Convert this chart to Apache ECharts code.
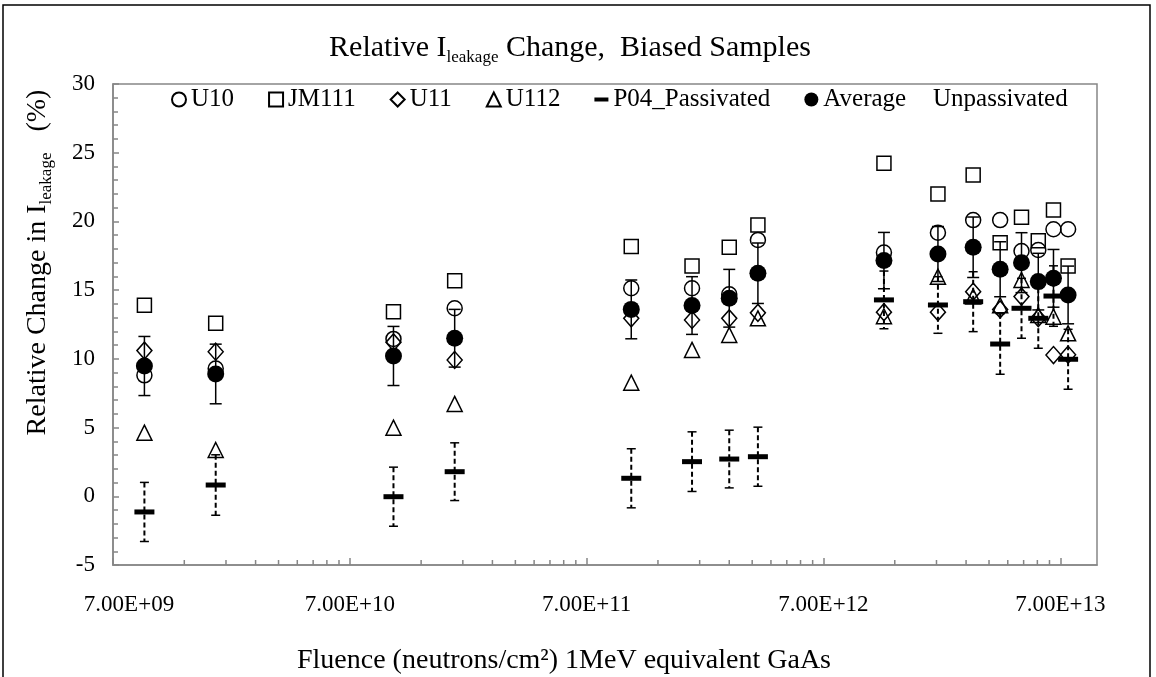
<!DOCTYPE html>
<html><head><meta charset="utf-8">
<script src="https://cdn.jsdelivr.net/npm/echarts@6/dist/echarts.min.js"></script>
<style>html,body{margin:0;padding:0;background:#fff}#c{width:1156px;height:677px}</style>
</head><body><div id="c"></div>
<script>
// ---- data ----
const fluence = [9.5e9, 1.9e10, 1.07e11, 1.94e11, 1.08e12, 1.95e12, 2.8e12, 3.7e12,
                 1.26e13, 2.13e13, 3.0e13, 3.9e13, 4.8e13, 5.65e13, 6.55e13, 7.55e13];
const u10   = [8.8, 9.3, 11.45, 13.68, 15.14, 15.14, 14.7, 18.65, 17.73, 19.18, 20.1, 20.1, 17.85, 17.92, 19.43, 19.43];
const jm111 = [13.9, 12.59, 13.43, 15.69, 18.17, 16.76, 18.12, 19.74, 24.23, 22.0, 23.38, 18.45, 20.3, 18.6, 20.83, 16.76];
const u11   = [10.6, 10.52, 11.2, 9.92, 12.95, 12.83, 12.95, 13.35, 13.4, 13.4, 14.89, 13.6, 14.53, 12.97, 10.28, 10.3];
const u112  = [4.63, 3.37, 4.99, 6.72, 8.27, 10.65, 11.74, 12.95, 13.1, 15.98, 14.53, 13.9, 15.74, 13.19, 13.07, 11.86];
const p04   = [-1.14, 0.82, -0.03, 1.79, 1.31, 2.52, 2.71, 2.88, 14.29, 13.92, 14.16, 11.08, 13.68, 12.95, 14.57, 9.97];
const p04Err = [2.15, 2.2, 2.15, 2.1, 2.15, 2.17, 2.1, 2.15, 2.1, 2.06, 2.18, 2.2, 2.18, 2.18, 2.2, 2.18];
const avg   = [9.48, 8.9, 10.21, 11.5, 13.6, 13.88, 14.41, 16.23, 17.15, 17.63, 18.12, 16.52, 17.0, 15.62, 15.86, 14.65];
const avgErr = [2.15, 2.17, 2.15, 2.1, 2.14, 2.1, 2.1, 2.2, 2.05, 2.0, 2.2, 2.0, 2.18, 2.06, 2.1, 2.1];
const xTickLabels = ['7.00E+09', '7.00E+10', '7.00E+11', '7.00E+12', '7.00E+13'];
const xMinFluence = 7e9, xMaxFluence = 1e14;
const yMin = -5, yMax = 30, yStep = 5;
const minorMultipliers = [2, 3, 4, 5, 6, 7, 8, 9];

// ---- helpers ----
const lx = f => Math.log10(f / xMinFluence);
const XMAX = lx(xMaxFluence);
const pts = ys => fluence.map((f, i) => [lx(f), ys[i]]);
const errPts = (ys, es) => fluence.map((f, i) => [lx(f), ys[i], es[i]]);
const minorTicks = [];
for (let n = 0; n < xTickLabels.length; n++) {
  minorMultipliers.forEach(k => { const v = n + Math.log10(k); if (v < XMAX) minorTicks.push([v, yMin]); });
}
const FONT = "'Liberation Serif','Times New Roman',serif";
const AX = '#868686';

function errRender(capW, dash, lw) {
  return function (params, api) {
    const x = api.value(0), y = api.value(1), e = api.value(2);
    const t = api.coord([x, y + e]), b = api.coord([x, y - e]);
    return { type: 'group', children: [
      { type: 'line', shape: { x1: t[0], y1: t[1], x2: b[0], y2: b[1] }, style: { stroke: '#000', lineWidth: lw, lineDash: dash } },
      { type: 'line', shape: { x1: t[0] - capW / 2, y1: t[1], x2: t[0] + capW / 2, y2: t[1] }, style: { stroke: '#000', lineWidth: 1.5 } },
      { type: 'line', shape: { x1: b[0] - capW / 2, y1: b[1], x2: b[0] + capW / 2, y2: b[1] }, style: { stroke: '#000', lineWidth: 1.5 } }
    ]};
  };
}
const hollow = { color: 'transparent', borderColor: '#000', borderWidth: 1.5, opacity: 1 };
const solid = { color: '#000', opacity: 1 };
const legendText = { fontFamily: FONT, fontSize: 25, color: '#000', padding: [2, 0, 0, 0] };

const chart = echarts.init(document.getElementById('c'), null, { renderer: 'canvas' });
chart.setOption({
  backgroundColor: '#fff',
  animation: false,
  textStyle: { fontFamily: FONT, color: '#000' },
  graphic: [{ type: 'rect', shape: { x: 3, y: 5, width: 1147, height: 700 }, style: { fill: 'none', stroke: '#000', lineWidth: 1.5 }, silent: true }],
  title: {
    text: '{a|Relative I}{s|leakage}{a| Change,  Biased Samples}',
    left: 565, top: 26, textAlign: 'center',
    textStyle: { fontWeight: 'normal', rich: {
      a: { fontFamily: FONT, fontSize: 30, fontWeight: 'normal', color: '#000' },
      s: { fontFamily: FONT, fontSize: 17, fontWeight: 'normal', color: '#000', padding: [18, 0, 0, 0] }
    } }
  },
  grid: { left: 113, right: 59, top: 84, bottom: 112, outerBoundsMode: 'none', containLabel: false,
          show: true, borderColor: AX, borderWidth: 1.5 },
  legend: [{
    left: 166, top: 82, itemGap: 34, itemWidth: 14, itemHeight: 14, selectedMode: false,
    textStyle: legendText,
    data: [
      { name: 'U10' }, { name: 'JM111' }, { name: 'U11' }, { name: 'U112' },
      { name: 'P04_Passivated', icon: 'path://M0,0H14V4H0Z' }, { name: 'Average' }
    ]
  }, {
    left: 923, top: 82, itemWidth: 0, itemHeight: 14, selectedMode: false,
    textStyle: legendText,
    data: [{ name: 'Unpassivated', icon: 'none' }]
  }],
  xAxis: {
    type: 'value', min: 0, max: XMAX, interval: 1,
    name: 'Fluence (neutrons/cm²) 1MeV equivalent GaAs',
    nameLocation: 'middle', nameGap: 82,
    nameTextStyle: { fontFamily: FONT, fontSize: 28, color: '#000', padding: [0, 82, 0, 0] },
    axisLine: { onZero: false, lineStyle: { color: AX, width: 1.5 } },
    axisTick: { inside: true, length: 7, lineStyle: { color: AX, width: 1.5 } },
    axisLabel: { margin: 28, fontFamily: FONT, fontSize: 23, color: '#000', showMaxLabel: false,
      rich: { first: { fontFamily: FONT, fontSize: 23, color: '#000', padding: [0, 0, 0, 32] } },
      formatter: v => { const r = Math.round(v);
        if (Math.abs(v - r) > 1e-6 || !xTickLabels[r]) return '';
        return r === 0 ? '{first|' + xTickLabels[r] + '}' : xTickLabels[r]; } },
    splitLine: { show: false }
  },
  yAxis: {
    type: 'value', min: yMin, max: yMax, interval: yStep,
    name: '{a|Relative Change in I}{s|leakage}{a|   (%)}',
    nameLocation: 'middle', nameGap: 58, nameRotate: 90,
    nameTextStyle: { padding: [0, 0, 0, 124], rich: {
      a: { fontFamily: FONT, fontSize: 28, color: '#000' },
      s: { fontFamily: FONT, fontSize: 17, color: '#000', padding: [18, 0, 0, 0] }
    } },
    axisLine: { show: true, onZero: false, lineStyle: { color: AX, width: 1.5 } },
    axisTick: { show: true, inside: true, length: 6, lineStyle: { color: AX, width: 1.5 } },
    minorTick: { show: true, splitNumber: 5, length: 5, lineStyle: { color: AX, width: 1.5 } },
    axisLabel: { margin: 18, fontFamily: FONT, fontSize: 23, color: '#000' },
    splitLine: { show: false }
  },
  series: [
    { type: 'custom', name: 'minorTicks', silent: true, z: 1, clip: false,
      renderItem: (p, api) => { const c = api.coord([api.value(0), api.value(1)]);
        return { type: 'line', shape: { x1: c[0], y1: c[1], x2: c[0], y2: c[1] - 5 }, style: { stroke: AX, lineWidth: 1.5 } }; },
      encode: { x: 0, y: 1 }, data: minorTicks },
    { type: 'custom', name: 'avgErr', silent: true, z: 2, renderItem: errRender(12, null, 1.5), encode: { x: 0, y: 1 }, data: errPts(avg, avgErr) },
    { type: 'custom', name: 'p04Err', silent: true, z: 2, renderItem: errRender(9, [5, 3], 2), encode: { x: 0, y: 1 }, data: errPts(p04, p04Err) },
    { type: 'scatter', name: 'U10', z: 3, symbol: 'circle', symbolSize: 15, itemStyle: hollow, data: pts(u10) },
    { type: 'scatter', name: 'JM111', z: 3, symbol: 'rect', symbolSize: 14, itemStyle: hollow, data: pts(jm111) },
    { type: 'scatter', name: 'U11', z: 3, symbol: 'diamond', symbolSize: [15, 17], itemStyle: hollow, data: pts(u11) },
    { type: 'scatter', name: 'U112', z: 3, symbol: 'triangle', symbolSize: 15, itemStyle: hollow, data: pts(u112) },
    { type: 'scatter', name: 'P04_Passivated', z: 4, symbol: 'rect', symbolSize: [20, 5], itemStyle: solid, data: pts(p04) },
    { type: 'scatter', name: 'Average', z: 5, symbol: 'circle', symbolSize: 17, itemStyle: solid, data: pts(avg) },
    { type: 'scatter', name: 'Unpassivated', symbol: 'none', data: [] }
  ]
});
</script></body></html>
